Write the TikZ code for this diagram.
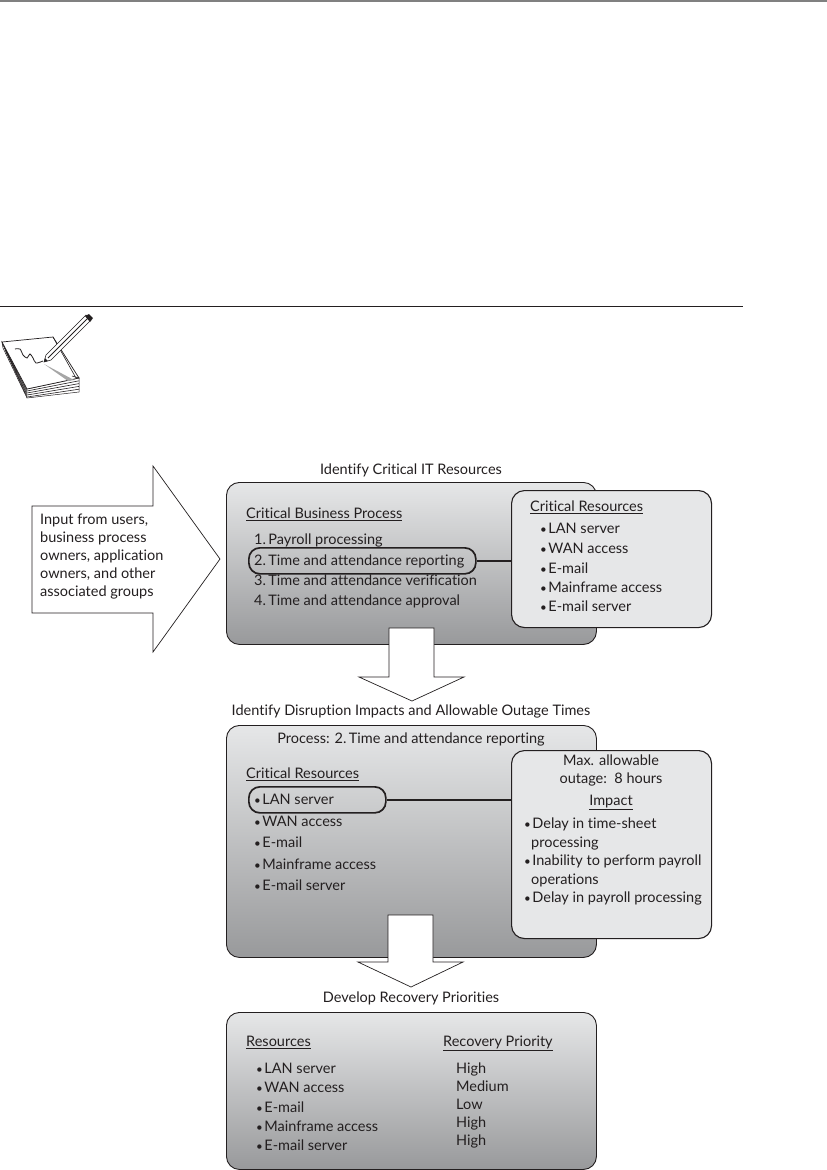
\documentclass[tikz,border=0pt]{standalone}
\usepackage{fontspec}
\setmainfont{Lato}[Ligatures=NoCommon]
\usepackage{tikz}
\definecolor{boxtop}{HTML}{E6E7E8}
\definecolor{boxbot}{HTML}{98999B}
\definecolor{ink}{HTML}{231F20}
\tikzset{
  bigbox/.style={draw=ink,line width=0.9pt,rounded corners=13pt,top color=boxtop,bottom color=boxbot,anchor=north west,inner sep=0pt},
  sidebox/.style={draw=ink,line width=1.1pt,rounded corners=13pt,fill=boxtop,anchor=north west,inner sep=0pt},
  pickbox/.style={draw=ink,line width=1.7pt,rounded corners=11pt,anchor=north west,inner sep=0pt},
  txt/.style={anchor=west,inner sep=0pt,text=ink,text height=14pt,text depth=3pt,font=\fontsize{14.5}{18}\selectfont},
  title/.style={txt,anchor=center},
  flow/.style={draw=ink,line width=0.7pt,fill=white,line join=miter},
  padline/.style={draw=ink,line width=0.6pt}
}
\newcommand{\bul}{\raisebox{0.5pt}{\scalebox{0.8}{•}}\hspace{1.5pt}}
\begin{document}
\begin{tikzpicture}[x=1pt,y=-1pt]
\useasboundingbox (0,0) rectangle (827,1170);
\fill[white] (0,0) rectangle (827,1170);
% page rules
\draw[line width=1.8pt,draw=gray] (0,1) -- (827,1);
\draw[line width=0.9pt,draw=ink] (0,306) -- (743,306);

% note icon
\fill[white,draw=ink,line width=0.5pt] (2,342) -- (3,348) -- (27,398) -- (79,392) -- (79,378) -- (27,389) -- cycle;
\foreach \Step in {1,2,3,4}{
  \draw[padline] (2+\Step*0.8,342+\Step*2) -- (27,389+\Step*2) -- (79,378+\Step*2.8);
}
\draw[ink,line width=0.7pt,fill=white] (2,342) -- (53,337) -- (79,378) -- (27,389) -- cycle;
\draw[ink,line width=0.6pt] (53,337) -- (76,378) (72,376) -- (79,378);
\fill[gray!70] (44,364) -- (74,380) -- (68,381) -- cycle;
\draw[ink,line width=0.8pt,smooth] plot coordinates {(15,349) (20,349) (23,355) (27,358) (30,354) (33,358) (36,363) (43,361)};
\draw[ink,line width=0.6pt,fill=white] (44,362) -- (46,355) -- (86,315) -- (91,320) -- (51,360) -- cycle;
\draw[ink,line width=0.8pt] (48,358) -- (88,318);
\fill[ink] (85,316) -- (89,314) -- (93,318) -- (90,322) -- cycle;
\fill[ink] (44,362) -- (45,358) -- (48,361) -- cycle;

% main boxes
\node[bigbox,minimum width=370pt,minimum height=162pt] (boxIdentify) at (226,482) {};
\node[bigbox,minimum width=370pt,minimum height=232pt] (boxImpact) at (226,725) {};
\node[bigbox,minimum width=370pt,minimum height=157pt] (boxPriority) at (226,1012) {};
\node[pickbox,minimum width=227pt,minimum height=26pt] (pickProcess) at (248,547) {};
\node[pickbox,minimum width=137pt,minimum height=26pt] (pickServer) at (248,786) {};
\node[sidebox,minimum width=200pt,minimum height=137pt] (boxResources) at (511,490) {};
\node[sidebox,minimum width=200pt,minimum height=188pt] (boxOutage) at (511,750) {};
\draw[ink,line width=1.7pt] (pickProcess) -- (boxResources.west |- pickProcess);
\draw[ink,line width=1.7pt] (pickServer) -- (boxOutage.west |- pickServer);

% flow arrows
\draw[flow] (32,506) -- (153,506) -- (153,466) -- (220,559) -- (153,652) -- (153,613) -- (32,613) -- cycle;
\draw[flow] (389,628) -- (434,628) -- (434,677) -- (464,677) -- (412,701) -- (359,677) -- (389,677) -- cycle;
\draw[flow] (388,915) -- (433,915) -- (433,962) -- (463,962) -- (411,987) -- (358,962) -- (388,962) -- cycle;

% titles
\node[title] (titleIdentify) at (411,469) {Identify Critical IT Resources};
\node[title] (titleImpact) at (411,710) {Identify Disruption Impacts and Allowable Outage Times};
\node[title] (titlePriority) at (411,997) {Develop Recovery Priorities};

% input arrow text
\node[txt,align=left,anchor=north west,text height=,text depth=] (inputText) at (40,514) {Input from users,\\business process\\owners, application\\owners, and other\\associated groups};

% first box
\node[txt] (headProcess) at (246,513) {\underline{Critical Business Process}};
\foreach \Label/\Ypos in {1.\,Payroll processing/539, 2.\,Time and attendance reporting/560, 3.\,Time and attendance verification/580, 4.\,Time and attendance approval/600}{
  \node[txt] at (254,\Ypos) {\Label};
}
\node[txt] (headResources) at (530,506) {\underline{Critical Resources}};
\foreach \Label/\Ypos in {LAN server/528, WAN access/548, E-mail/568, Mainframe access/587, E-mail server/606}{
  \node[txt] at (540,\Ypos) {\bul\Label};
}

% second box
\node[title] (titleProcess) at (411,738) {Process: 2.\,Time and attendance reporting};
\node[txt] (headCritical) at (246,773) {\underline{Critical Resources}};
\foreach \Label/\Ypos in {LAN server/799, WAN access/821, E-mail/842, Mainframe access/864, E-mail server/885}{
  \node[txt] at (254,\Ypos) {\bul\Label};
}
\node[title] (titleOutage) at (611,760) {Max. allowable};
\node[title] (titleEight) at (611,778) {outage:\ \ 8 hours};
\node[title] (headImpact) at (611,800) {\underline{Impact}};
\node[txt] (impactA) at (524,823) {\bul Delay in time-sheet};
\node[txt] (impactB) at (531,842) {processing};
\node[txt] (impactC) at (524,860) {\bul Inability to perform payroll};
\node[txt] (impactD) at (531,879) {operations};
\node[txt] (impactE) at (524,897) {\bul Delay in payroll processing};

% third box
\node[txt] (headRes) at (246,1041) {\underline{Resources}};
\node[txt] (headRecovery) at (443,1041) {\underline{Recovery Priority}};
\foreach \Label/\Ypos in {LAN server/1068, WAN access/1087, E-mail/1107, Mainframe access/1126, E-mail server/1145}{
  \node[txt] at (256,\Ypos) {\bul\Label};
}
\foreach \Label/\Ypos in {High/1068, Medium/1086, Low/1104, High/1122, High/1140}{
  \node[txt] at (456,\Ypos) {\Label};
}
\end{tikzpicture}
\end{document}
